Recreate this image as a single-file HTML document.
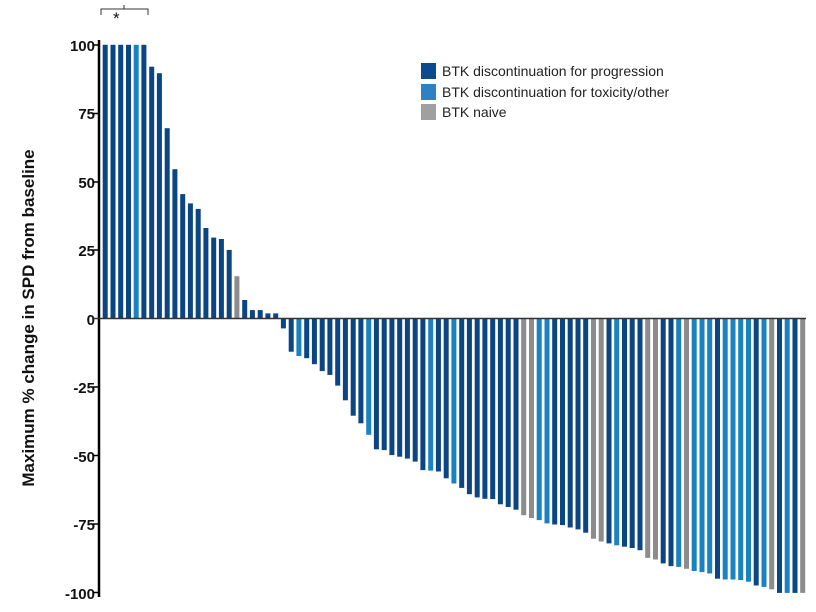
<!DOCTYPE html>
<html><head><meta charset="utf-8"><style>
body{margin:0;background:#fff;}
svg text{font-family:"Liberation Sans",Arial,sans-serif;}
</style></head><body>
<svg id="s" width="816" height="607" xmlns="http://www.w3.org/2000/svg">
<rect width="816" height="607" fill="#fff"/>
<text transform="translate(34,318) rotate(-90)" text-anchor="middle" font-size="17" font-weight="bold" fill="#111">Maximum % change in SPD from baseline</text>
<g font-size="15" font-weight="bold" fill="#111" text-anchor="end">
<text x="95" y="51">100</text><text x="95" y="119">75</text><text x="95" y="188">50</text><text x="95" y="256">25</text><text x="95" y="325">0</text><text x="95" y="393">-25</text><text x="95" y="462">-50</text><text x="95" y="530">-75</text><text x="95" y="599">-100</text>
</g>
<g stroke="#000" stroke-width="1.5">
<line x1="93" y1="45" x2="99" y2="45"/><line x1="93" y1="113.5" x2="99" y2="113.5"/><line x1="93" y1="182" x2="99" y2="182"/><line x1="93" y1="250" x2="99" y2="250"/><line x1="93" y1="387" x2="99" y2="387"/><line x1="93" y1="455.5" x2="99" y2="455.5"/><line x1="93" y1="524" x2="99" y2="524"/><line x1="93" y1="592.5" x2="99" y2="592.5"/>
</g>
<line x1="99" y1="40" x2="99" y2="597" stroke="#000" stroke-width="2.5"/>
<g id="bars"></g>
<line x1="93" y1="318.5" x2="806" y2="318.5" stroke="#333" stroke-width="1.5"/>
<path d="M101,15 V9 H148 V15 M124,9 V5" fill="none" stroke="#333" stroke-width="1"/>
<text x="113" y="24" font-size="17" fill="#111">*</text>
<rect x="421" y="63" width="15" height="16" fill="#0d4a8c"/>
<rect x="421" y="84" width="15" height="16" fill="#2e82c4"/>
<rect x="421" y="104" width="15" height="16" fill="#a0a0a0"/>
<g font-size="14" fill="#222">
<text x="442" y="76">BTK discontinuation for progression</text>
<text x="442" y="97">BTK discontinuation for toxicity/other</text>
<text x="442" y="117">BTK naive</text>
</g>
</svg>
<script>
var v=[100,100,100,100,100,100,92,89.6,69.5,54.5,45.4,42,40,33,29.5,29,25,15.4,6.7,3,3,1.8,1.8,-3.7,-12.2,-13.8,-14.6,-16.8,-19.3,-20.7,-24.6,-30,-35.6,-38.4,-42.6,-47.9,-48.2,-50,-50.6,-51.3,-52.4,-55.5,-55.7,-56,-58.5,-60.4,-62,-64.3,-65.5,-66,-66.1,-68,-69,-70,-72,-73,-73.8,-75,-75.4,-75.6,-76.5,-77.2,-78.4,-80.6,-81.6,-82.3,-83,-83.5,-84,-84.8,-87.6,-88.2,-89.6,-90.6,-90.9,-91.6,-92.4,-92.8,-93.3,-95.2,-95.5,-95.5,-95.7,-96.3,-97.7,-98.2,-99.1,-100.4,-100.4,-100.4,-100.4];
var L=[5,26,35,43,46,57,58,67,75,77,78,79,81,82,83,84,86,89,91];
var G=[18,55,56,64,65,71,72,76,87];
var g=document.getElementById('bars'),h='';
for(var i=0;i<v.length;i++){var n=i+1;var c=G.indexOf(n)>=0?'#8c8c8c':(L.indexOf(n)>=0?'#1a82c2':'#0b4583');
if(n==91)c='#8c8c8c';
var x=102.7+i*7.75,y0=318.3,hh=v[i]*2.735;
var y=hh>0?y0-hh:y0;h+='<rect x="'+x.toFixed(1)+'" y="'+y.toFixed(1)+'" width="5" height="'+Math.abs(hh).toFixed(1)+'" fill="'+c+'"/>';}
g.innerHTML=h;
</script>
</body></html>
